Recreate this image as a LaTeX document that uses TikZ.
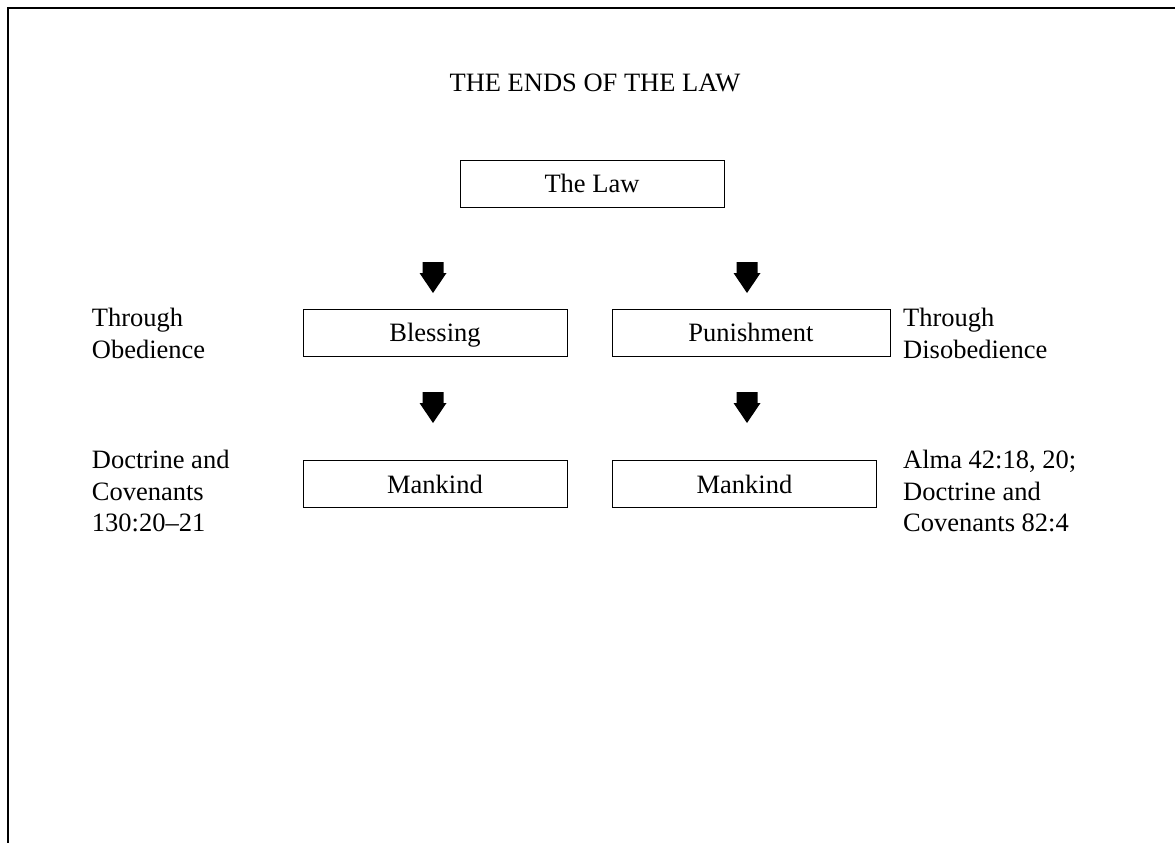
\documentclass[tikz,border=0pt]{standalone}
\usepackage{fontspec}
\setmainfont{Liberation Serif}
\begin{document}
\begin{tikzpicture}[x=1pt,y=-1pt,
  every node/.style={font=\fontsize{26.5}{31.7}\selectfont},
  box/.style={draw, line width=1pt, minimum height=47pt, inner sep=0pt, text height=18.4pt, text depth=0pt},
  sidelabel/.style={anchor=base west, align=left, inner sep=0pt},
  frameline/.style={line width=1.5pt},
  blockarrow/.pic={\fill (-10.5,0) -- (10.5,0) -- (10.5,11) -- (13.5,11) -- (0,31) -- (-13.5,11) -- (-10.5,11) -- cycle;}
]
\useasboundingbox (0,0) rectangle (1175,843);
\coordinate (fc) at (8,8);
\coordinate (fr) at (1175,8);
\coordinate (fb) at (8,843);
\draw[frameline] (fr) -- (fc) -- (fb);

\node[anchor=base, inner sep=0pt] (title) at (595,92) {THE ENDS OF THE LAW};

\node[box, minimum width=264pt] (law) at (592,183.5) {The Law};
\node[box, minimum width=264pt] (bless) at (435,332.5) {Blessing};
\node[box, minimum width=278pt] (pun) at (751,332.5) {Punishment};
\node[box, minimum width=264pt] (mankL) at (435,484) {Mankind};
\node[box, minimum width=264.5pt] (mankR) at (744.5,484) {Mankind};

\pic at (433,262) {blockarrow};
\pic at (747,262) {blockarrow};
\pic at (433,392) {blockarrow};
\pic at (747,392) {blockarrow};

% base anchor of a multi-line node is the baseline of its last line
\node[sidelabel] (obed) at (91.7,358) {Through\\Obedience};
\node[sidelabel] (disobed) at (903,358.3) {Through\\Disobedience};
\node[sidelabel] (dc) at (91.7,531.7) {Doctrine and\\Covenants\\130:20\textendash 21};
\node[sidelabel] (alma) at (903,531.7) {Alma 42:18, 20;\\Doctrine and\\Covenants 82:4};
\end{tikzpicture}
\end{document}
